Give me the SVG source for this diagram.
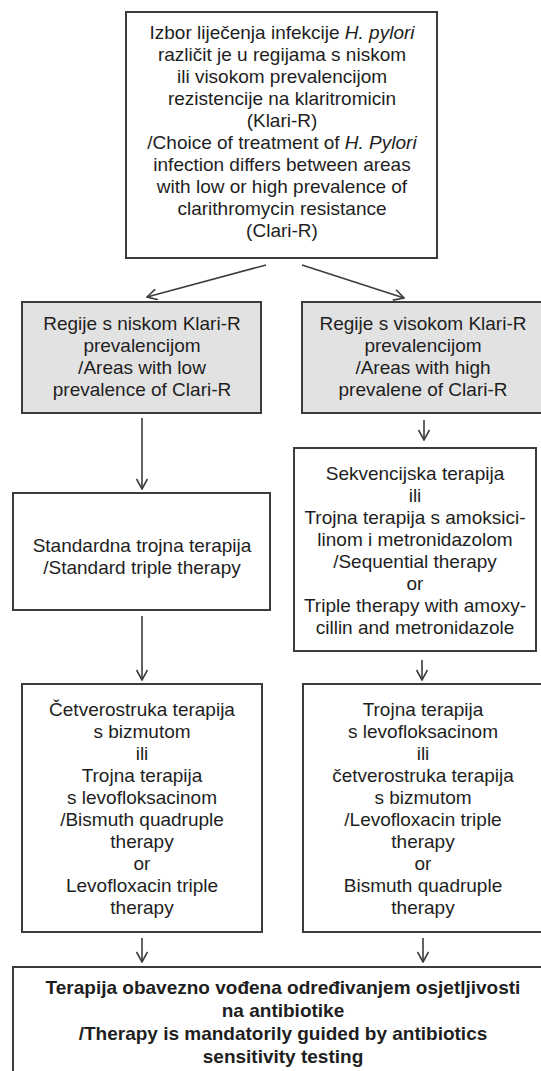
<svg xmlns="http://www.w3.org/2000/svg" width="541" height="1071" viewBox="0 0 541 1071">
<defs>
<style>
.box{fill:#ffffff;stroke:#3c3c3c;stroke-width:2}
.gray{fill:#e2e2e2;stroke:#3c3c3c;stroke-width:2}
.t{font-family:"Liberation Sans",Arial,sans-serif;font-size:19px;fill:#1e1e1e;text-anchor:middle}
.b{font-weight:bold}
.c{stroke:#3c3c3c;stroke-width:1.6;fill:none}
</style>
<marker id="ah" viewBox="0 0 12 12" refX="11" refY="6" markerWidth="12" markerHeight="12" markerUnits="userSpaceOnUse" orient="auto">
<polyline points="1,0.5 11,6 1,11.5" fill="none" stroke="#3c3c3c" stroke-width="1.6"/>
</marker>
</defs>
<rect width="541" height="1071" fill="#ffffff"/>

<g id="connectors">
<line class="c" x1="266" y1="265" x2="147" y2="297" marker-end="url(#ah)"/>
<line class="c" x1="302" y1="265" x2="404" y2="298" marker-end="url(#ah)"/>
<line class="c" x1="142" y1="418" x2="142" y2="489" marker-end="url(#ah)"/>
<line class="c" x1="424" y1="420" x2="424" y2="440" marker-end="url(#ah)"/>
<line class="c" x1="142" y1="616" x2="142" y2="680" marker-end="url(#ah)"/>
<line class="c" x1="422" y1="660" x2="422" y2="680" marker-end="url(#ah)"/>
<line class="c" x1="142" y1="938" x2="142" y2="962" marker-end="url(#ah)"/>
<line class="c" x1="423" y1="938" x2="423" y2="962" marker-end="url(#ah)"/>
</g>

<g id="top">
<rect class="box" x="126" y="12" width="311" height="246"/>
<text class="t" x="282" y="39">Izbor liječenja infekcije <tspan font-style="italic">H. pylori</tspan></text>
<text class="t" x="282" y="61">različit je u regijama s niskom</text>
<text class="t" x="282" y="83">ili visokom prevalencijom</text>
<text class="t" x="282" y="105">rezistencije na klaritromicin</text>
<text class="t" x="282" y="127">(Klari-R)</text>
<text class="t" x="282" y="149">/Choice of treatment of <tspan font-style="italic">H. Pylori</tspan></text>
<text class="t" x="282" y="171">infection differs between areas</text>
<text class="t" x="282" y="193">with low or high prevalence of</text>
<text class="t" x="282" y="215">clarithromycin resistance</text>
<text class="t" x="282" y="237">(Clari-R)</text>
</g>

<g id="low">
<rect class="gray" x="22" y="302" width="239" height="111"/>
<text class="t" x="142" y="330">Regije s niskom Klari-R</text>
<text class="t" x="142" y="352">prevalencijom</text>
<text class="t" x="142" y="374">/Areas with low</text>
<text class="t" x="142" y="396">prevalence of Clari-R</text>
</g>

<g id="high">
<rect class="gray" x="302" y="302" width="250" height="111"/>
<text class="t" x="423" y="330">Regije s visokom Klari-R</text>
<text class="t" x="423" y="352">prevalencijom</text>
<text class="t" x="423" y="374">/Areas with high</text>
<text class="t" x="423" y="396">prevalene of Clari-R</text>
</g>

<g id="standard">
<rect class="box" x="13" y="493" width="257" height="117"/>
<text class="t" x="142" y="552">Standardna trojna terapija</text>
<text class="t" x="142" y="574">/Standard triple therapy</text>
</g>

<g id="sequential">
<rect class="box" x="294" y="448" width="242" height="203"/>
<text class="t" x="415" y="480">Sekvencijska terapija</text>
<text class="t" x="415" y="502">ili</text>
<text class="t" x="415" y="524">Trojna terapija s amoksici-</text>
<text class="t" x="415" y="546">linom i metronidazolom</text>
<text class="t" x="415" y="568">/Sequential therapy</text>
<text class="t" x="415" y="590">or</text>
<text class="t" x="415" y="612">Triple therapy with amoxy-</text>
<text class="t" x="415" y="634">cillin and metronidazole</text>
</g>

<g id="left2">
<rect class="box" x="22" y="684" width="240" height="248"/>
<text class="t" x="142" y="716">Četverostruka terapija</text>
<text class="t" x="142" y="738">s bizmutom</text>
<text class="t" x="142" y="760">ili</text>
<text class="t" x="142" y="782">Trojna terapija</text>
<text class="t" x="142" y="804">s levofloksacinom</text>
<text class="t" x="142" y="826">/Bismuth quadruple</text>
<text class="t" x="142" y="848">therapy</text>
<text class="t" x="142" y="870">or</text>
<text class="t" x="142" y="892">Levofloxacin triple</text>
<text class="t" x="142" y="914">therapy</text>
</g>

<g id="right2">
<rect class="box" x="303" y="684" width="250" height="248"/>
<text class="t" x="423" y="716">Trojna terapija</text>
<text class="t" x="423" y="738">s levofloksacinom</text>
<text class="t" x="423" y="760">ili</text>
<text class="t" x="423" y="782">četverostruka terapija</text>
<text class="t" x="423" y="804">s bizmutom</text>
<text class="t" x="423" y="826">/Levofloxacin triple</text>
<text class="t" x="423" y="848">therapy</text>
<text class="t" x="423" y="870">or</text>
<text class="t" x="423" y="892">Bismuth quadruple</text>
<text class="t" x="423" y="914">therapy</text>
</g>

<g id="final">
<rect class="box" x="13" y="967" width="560" height="130"/>
<text class="t b" x="283" y="994">Terapija obavezno vođena određivanjem osjetljivosti</text>
<text class="t b" x="283" y="1017">na antibiotike</text>
<text class="t b" x="283" y="1040">/Therapy is mandatorily guided by antibiotics</text>
<text class="t b" x="283" y="1063">sensitivity testing</text>
</g>
</svg>
